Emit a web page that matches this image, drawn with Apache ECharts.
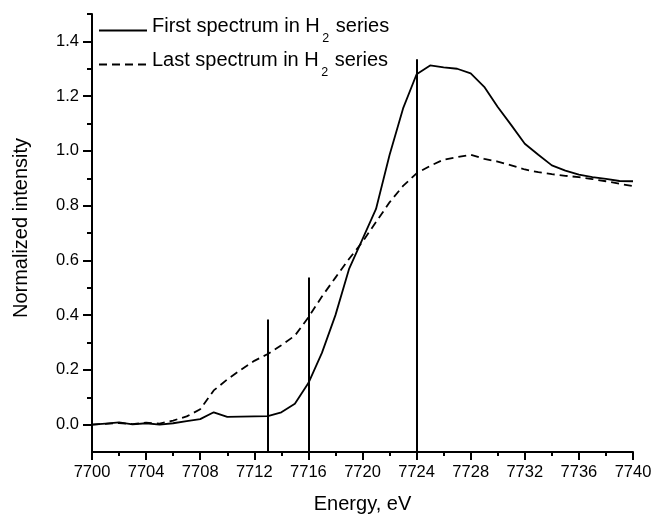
<!DOCTYPE html>
<html>
<head>
<meta charset="utf-8">
<script src="https://cdn.jsdelivr.net/npm/echarts@6/dist/echarts.min.js"></script>
<style>
  html, body { margin: 0; padding: 0; background: #fff; }
  #chart { width: 654px; height: 514px; }
</style>
</head>
<body>
<div id="chart"></div>
<script>
// energy grid, eV
let energy = [7700, 7701, 7702, 7703, 7704, 7705, 7706, 7707, 7708, 7709,
  7710, 7711, 7712, 7713, 7714, 7715, 7716, 7717, 7718, 7719,
  7720, 7721, 7722, 7723, 7724, 7725, 7726, 7727, 7728, 7729,
  7730, 7731, 7732, 7733, 7734, 7735, 7736, 7737, 7738, 7739, 7740];

// first spectrum (solid)
let firstSpec = [0.000, 0.004, 0.008, 0.001, 0.005, 0.000, 0.005, 0.013, 0.020, 0.045,
  0.028, 0.029, 0.030, 0.031, 0.045, 0.076, 0.152, 0.262, 0.400, 0.568,
  0.678, 0.788, 0.985, 1.155, 1.280, 1.312, 1.305, 1.300, 1.283, 1.234,
  1.160, 1.094, 1.026, 0.986, 0.947, 0.928, 0.913, 0.904, 0.898, 0.890, 0.889];

// last spectrum (dashed)
let lastSpec = [0.000, 0.003, 0.006, 0.002, 0.007, 0.004, 0.015, 0.030, 0.056, 0.125,
  0.165, 0.200, 0.233, 0.258, 0.290, 0.325, 0.392, 0.468, 0.537, 0.605,
  0.668, 0.740, 0.812, 0.872, 0.918, 0.945, 0.968, 0.977, 0.986, 0.971,
  0.961, 0.947, 0.932, 0.922, 0.915, 0.909, 0.904, 0.897, 0.889, 0.880, 0.871];

let seriesNames = ['First spectrum in H2 series', 'Last spectrum in H2 series'];

// vertical marker lines
let markerE = [7713, 7716, 7724];
let markerTop = [0.384, 0.537, 1.335];

let yMajor = [0, 0.2, 0.4, 0.6, 0.8, 1.0, 1.2, 1.4];
let yMinor = [0.1, 0.3, 0.5, 0.7, 0.9, 1.1, 1.3, 1.5];

const FONT = '"Liberation Sans", Arial, sans-serif';

let chart = echarts.init(document.getElementById('chart'), null, {renderer: 'canvas'});

chart.setOption({
  animation: false,
  backgroundColor: '#fff',
  grid: {left: 92, right: 21, top: 14, bottom: 62, outerBoundsMode: 'none', containLabel: false},
  legend: {
    orient: 'vertical',
    left: 98,
    top: 16,
    padding: 0,
    itemWidth: 48,
    itemHeight: 14,
    itemGap: 5,
    data: seriesNames,
    itemStyle: {opacity: 0},
    formatter: function(name){
      let p = name.split('H2');
      return '{a|' + p[0] + 'H}{s|2}{a|' + p[1] + '}';
    },
    textStyle: {
      color: '#000',
      rich: {
        a: {fontSize: 20, lineHeight: 20, fontFamily: FONT, color: '#000', padding: [0, 0, 8, 0]},
        s: {fontSize: 12.5, lineHeight: 12, fontFamily: FONT, color: '#000', padding: [16, 1, 0, 2.5]}
      }
    }
  },
  xAxis: {
    type: 'value',
    min: 7700,
    max: 7740,
    interval: 4,
    name: 'Energy, eV',
    nameLocation: 'middle',
    nameGap: 42,
    nameTextStyle: {fontSize: 20, color: '#000', fontFamily: FONT},
    axisLine: {onZero: false, lineStyle: {color: '#000', width: 2}},
    axisTick: {length: 8, lineStyle: {color: '#000', width: 2}},
    minorTick: {show: true, splitNumber: 2, length: 4, lineStyle: {color: '#000', width: 2}},
    axisLabel: {
      fontSize: 16.5, color: '#000', fontFamily: FONT, margin: 12,
      formatter: function(v){ return String(v); }
    },
    splitLine: {show: false}
  },
  yAxis: [
    {
      type: 'value',
      min: -0.1,
      max: 1.5,
      position: 'left',
      name: 'Normalized intensity',
      nameLocation: 'middle',
      nameGap: 61,
      nameTextStyle: {fontSize: 20, color: '#000', fontFamily: FONT, padding: [0, 0, 0, 10]},
      axisLine: {show: true, onZero: false, lineStyle: {color: '#000', width: 2}},
      axisTick: {show: true, length: 9, customValues: yMajor, lineStyle: {color: '#000', width: 2}},
      axisLabel: {
        fontSize: 16.5, color: '#000', fontFamily: FONT, margin: 13,
        customValues: yMajor,
        formatter: function(v){ return v.toFixed(1); }
      },
      splitLine: {show: false}
    },
    {
      type: 'value',
      min: -0.1,
      max: 1.5,
      position: 'left',
      offset: 0,
      axisLine: {show: false},
      axisTick: {show: true, length: 5, customValues: yMinor, lineStyle: {color: '#000', width: 2}},
      axisLabel: {show: false},
      splitLine: {show: false}
    }
  ],
  series: [
    {
      name: seriesNames[0],
      type: 'line',
      showSymbol: false,
      symbol: 'none',
      data: energy.map((e, i) => [e, firstSpec[i]]),
      lineStyle: {color: '#000', width: 1.8, type: 'solid'},
      itemStyle: {color: '#000'},
      markLine: {
        silent: true,
        symbol: ['none', 'none'],
        label: {show: false},
        lineStyle: {color: '#000', width: 2, type: 'solid'},
        data: markerE.map((e, i) => [{coord: [e, -0.1]}, {coord: [e, markerTop[i]]}])
      }
    },
    {
      name: seriesNames[1],
      type: 'line',
      showSymbol: false,
      symbol: 'none',
      data: energy.map((e, i) => [e, lastSpec[i]]),
      lineStyle: {color: '#000', width: 1.8, type: [8, 5]},
      itemStyle: {color: '#000'}
    }
  ]
});
</script>
</body>
</html>
